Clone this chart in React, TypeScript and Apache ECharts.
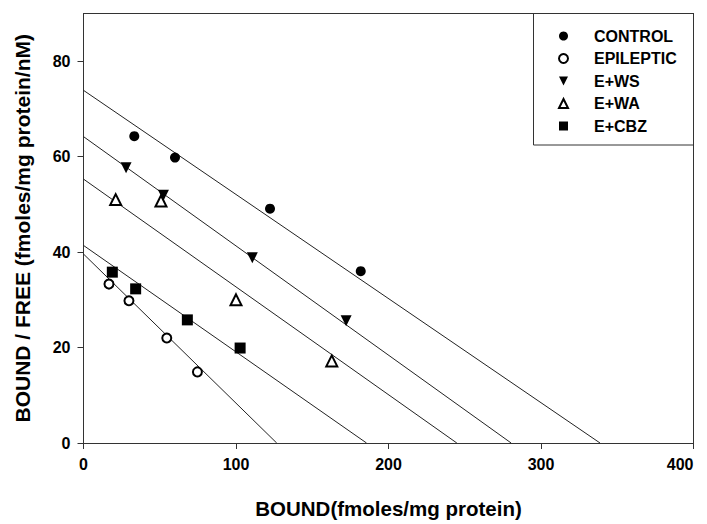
import React, { useEffect, useRef } from "react";
import * as echarts from "echarts";

const seriesNames = ["CONTROL", "EPILEPTIC", "E+WS", "E+WA", "E+CBZ"];

const controlX = [33.3, 60, 122.3, 181.8];
const controlY = [64.3, 59.8, 49.1, 36.0];
const epilepticX = [16.7, 29.8, 54.6, 74.7];
const epilepticY = [33.3, 29.8, 22.0, 14.9];
const wsX = [27.9, 52.4, 110.7, 172.2];
const wsY = [57.7, 51.9, 38.8, 25.6];
const waX = [21.1, 50.8, 100, 162.8];
const waY = [51.0, 50.7, 30.0, 17.2];
const cbzX = [18.9, 34.2, 68.1, 102.7];
const cbzY = [35.8, 32.3, 25.8, 19.9];

// regression lines: y-intercept (at BOUND = 0) and x-intercept (at B/F = 0)
const fitYIntercepts = [73.9, 39.6, 64.2, 55.3, 41.4];
const fitXIntercepts = [338.7, 126.7, 280.4, 244.8, 185.6];

const yTicks = [0, 20, 40, 60, 80];
const xTicks = [0, 100, 200, 300, 400];

const FONT = "'Liberation Sans', Arial, sans-serif";

export default function App() {
  const ref = useRef<HTMLDivElement>(null);

  useEffect(() => {
    if (!ref.current) return;
    const chart = echarts.init(ref.current, undefined, { renderer: "svg" });

    const zip = (xs: number[], ys: number[]) => xs.map((x, i) => [x, ys[i]]);
    const pointSets = [
      zip(controlX, controlY),
      zip(epilepticX, epilepticY),
      zip(wsX, wsY),
      zip(waX, waY),
      zip(cbzX, cbzY),
    ];
    const symbols = ["circle", "emptyCircle", "triangle", "emptyTriangle", "rect"];
    const rotations = [0, 0, 180, 0, 0];
    const sizes = [10, 9, 11, 11, 11];
    const legendIcons = ["circle", "emptyCircle", "path://M0,0L10,0L5,10Z", "emptyTriangle", "rect"];

    const lineSeries = fitYIntercepts.map((b, i) => ({
      type: "line",
      name: seriesNames[i] + " fit",
      data: [
        [0, b],
        [fitXIntercepts[i], 0],
      ],
      showSymbol: false,
      symbol: "none",
      silent: true,
      lineStyle: { color: "#222", width: 1 },
      z: 2,
    }));

    const scatterSeries = pointSets.map((pts, i) => ({
      type: "scatter",
      name: seriesNames[i],
      data: pts,
      symbol: symbols[i],
      symbolRotate: rotations[i],
      symbolSize: sizes[i],
      itemStyle: { color: "#000", opacity: 1, borderColor: "#000", borderWidth: i === 1 || i === 3 ? 1 : 0 },
      z: 5,
    }));

    const option: any = {
      animation: false,
      backgroundColor: "#fff",
      grid: { left: 83.5, top: 13.5, width: 610, height: 437.5, containLabel: false },
      legend: {
        orient: "vertical",
        left: 553,
        top: 23,
        itemWidth: 9,
        itemHeight: 9,
        itemGap: 6.5,
        data: seriesNames.map((n, i) => ({ name: n, icon: legendIcons[i] })),
        itemStyle: { opacity: 1 },
        textStyle: { fontFamily: FONT, fontWeight: "bold", fontSize: 16, lineHeight: 16, color: "#000", padding: [0, 0, 0, 21] },
        selectedMode: false,
      },
      xAxis: [
        {
          type: "value", min: 0, max: 400, interval: 100,
          name: "BOUND(fmoles/mg protein)", nameLocation: "middle", nameGap: 55,
          nameTextStyle: { fontFamily: FONT, fontWeight: "bold", fontSize: 20.5, color: "#000" },
          axisLine: { show: true, onZero: false, lineStyle: { color: "#333", width: 1 } },
          axisTick: { show: true, length: 6, lineStyle: { color: "#333" }, customValues: xTicks },
          axisLabel: { margin: 13, fontFamily: FONT, fontWeight: "bold", fontSize: 16, color: "#000", customValues: xTicks, alignMaxLabel: "right" },
          splitLine: { show: false },
        },
        {
          type: "value", position: "top", min: 0, max: 400,
          axisLine: { show: true, onZero: false, lineStyle: { color: "#333", width: 1 } },
          axisTick: { show: false }, axisLabel: { show: false }, splitLine: { show: false },
        },
      ],
      yAxis: [
        {
          type: "value", min: 0, max: 90, interval: 20,
          name: "BOUND / FREE (fmoles/mg protein/nM)", nameLocation: "middle", nameGap: 51, nameRotate: 90,
          nameTextStyle: { fontFamily: FONT, fontWeight: "bold", fontSize: 21, color: "#000" },
          axisLine: { show: true, onZero: false, lineStyle: { color: "#333", width: 1 } },
          axisTick: { show: true, length: 6, lineStyle: { color: "#333" }, customValues: yTicks },
          axisLabel: { margin: 13, fontFamily: FONT, fontWeight: "bold", fontSize: 16, color: "#000", customValues: yTicks },
          splitLine: { show: false },
        },
        {
          type: "value", position: "right", min: 0, max: 90,
          axisLine: { show: true, onZero: false, lineStyle: { color: "#333", width: 1 } },
          axisTick: { show: false }, axisLabel: { show: false }, splitLine: { show: false },
        },
      ],
      graphic: [
        { type: "rect", shape: { x: 533.5, y: 13.5, width: 160, height: 131.5 }, style: { fill: "none", stroke: "#333", lineWidth: 1 }, z: 10, silent: true },
      ],
      series: [...lineSeries, ...scatterSeries],
    };

    chart.setOption(option);
    return () => chart.dispose();
  }, []);

  return <div ref={ref} style={{ width: 707, height: 524, marginLeft: -8, marginTop: -8 }} />;
}
